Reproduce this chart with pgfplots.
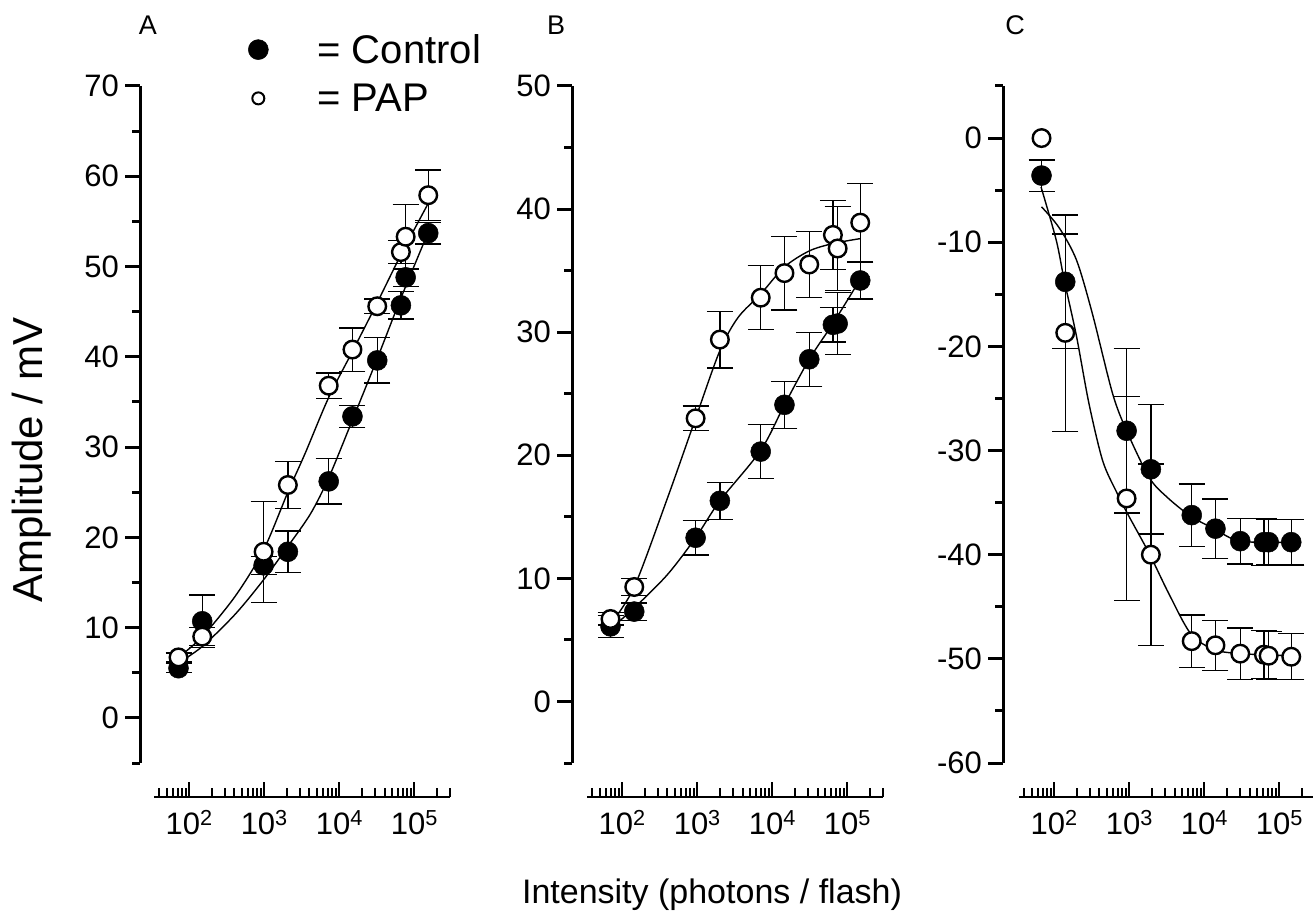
\documentclass[border=0pt]{standalone}
\usepackage{fontspec}
\setmainfont{Liberation Sans}
\usepackage{pgfplots}
\pgfplotsset{compat=1.18}
\newcommand{\tickfont}{\fontsize{31}{34}\selectfont}
\newcommand{\legfont}{\fontsize{40}{44}\selectfont}
% x values are log10(photons / flash)
\pgfplotsset{
  dataaxis/.style={
    scale only axis, width=311.3pt, height=677pt, anchor=south west,
    xmin=1.3324, xmax=5.4771,
    axis x line=none, axis y line*=left,
    axis line style={line width=3pt},
    tick align=outside,
    major tick length=15pt, minor tick length=8pt,
    tick style={line width=3pt, black},
    yticklabel style={font=\tickfont, inner sep=0pt, xshift=-6pt},
    clip=false,
  },
  xaxisstyle/.style={
    scale only axis, width=296.3pt, height=20pt, anchor=south west,
    xmin=1.5315, xmax=5.4771, ymin=0, ymax=1,
    axis y line=none, axis x line*=bottom,
    axis line style={line width=2.4pt},
    tick align=inside,
    major tick length=15pt, minor tick length=9pt,
    tick style={line width=2pt, black},
    xtick={2,3,4,5},
    xticklabels={10\textsuperscript{2},10\textsuperscript{3},10\textsuperscript{4},10\textsuperscript{5}},
    minor xtick={1.6021,1.6990,1.7782,1.8451,1.9031,1.9542,
      2.3010,2.4771,2.6021,2.6990,2.7782,2.8451,2.9031,2.9542,
      3.3010,3.4771,3.6021,3.6990,3.7782,3.8451,3.9031,3.9542,
      4.3010,4.4771,4.6021,4.6990,4.7782,4.8451,4.9031,4.9542,
      5.3010,5.4771},
    xticklabel style={font=\tickfont, yshift=-10pt},
    clip=false,
  },
  legimg/.style={legend image code/.code={\draw[##1] plot coordinates {(0pt,0pt)}; \path (-10pt,0pt) (58pt,0pt);}},
  ctrlmk/.style={only marks, mark=*, mark size=10pt, black, mark options={fill=black, line width=0.5pt}},
  papmk/.style={only marks, mark=*, mark size=8.8pt, black, mark options={fill=white, line width=2.4pt}},
  ebar/.style={only marks, mark=none, black,
    error bars/y dir=both, error bars/y explicit,
    error bars/error bar style={line width=1.3pt, black},
    error bars/error mark options={rotate=90, line width=1.3pt, mark size=13pt, black}},
  fitline/.style={smooth, no markers, line width=1.4pt, black},
}
\begin{document}
\begin{tikzpicture}
\path[use as bounding box] (0pt,0pt) rectangle (1313pt,913pt);

% ---------------- Panel A ----------------
\begin{axis}[dataaxis, at={(140pt,150pt)}, ymin=-5, ymax=70,
  ytick={0,10,20,30,40,50,60,70}, yticklabels={0,10,20,30,40,50,60,70},
  minor ytick={-5,5,15,25,35,45,55,65},
  legend style={draw=none, fill=none, at={(0.3467,1.078)}, anchor=north west,
    font=\legfont, row sep=17pt, inner sep=0pt, nodes={inner sep=1pt}, cells={anchor=west}},
  legimg,
]
\addlegendimage{ctrlmk, mark size=10pt}
\addlegendentry{= Control}
\addlegendimage{papmk, mark size=6pt, mark options={fill=white, line width=2pt}}
\addlegendentry{= PAP}
\addplot[ebar] coordinates {
 (1.845,5.5) +- (0,0.5) (2.161,10.7) +- (0,2.9) (2.978,16.9) +- (0,1.0) (3.301,18.4) +- (0,2.3)
 (3.845,26.2) +- (0,2.5) (4.161,33.4) +- (0,1.2) (4.491,39.6) +- (0,2.5) (4.806,45.7) +- (0,1.5)
 (4.869,48.8) +- (0,1.0) (5.170,53.7) +- (0,1.2)};
\addplot[ebar] coordinates {
 (1.845,6.7) +- (0,0.5) (2.161,9.0) +- (0,1.0) (2.978,18.4) +- (0,5.6) (3.301,25.8) +- (0,2.6)
 (3.845,36.8) +- (0,1.4) (4.161,40.8) +- (0,2.4) (4.491,45.6) +- (0,0.8) (4.806,51.6) +- (0,1.3)
 (4.869,53.3) +- (0,3.6) (5.170,57.9) +- (0,2.8)};
\addplot[fitline] coordinates {(1.845,6.1) (2.161,7.9) (2.602,11.5) (2.978,15.3) (3.301,19.0) (3.602,22.6) (3.845,26.6) (4.161,33.0) (4.491,39.8) (4.806,46.5) (5.170,53.8)};
\addplot[fitline] coordinates {(1.845,6.7) (2.161,9.0) (2.602,13.5) (2.978,18.6) (3.301,25.0) (3.531,29.3) (3.845,35.5) (4.161,40.6) (4.491,46.0) (4.806,51.3) (5.170,57.0)};
\addplot[ctrlmk] coordinates {(1.845,5.5) (2.161,10.7) (2.978,16.9) (3.301,18.4) (3.845,26.2) (4.161,33.4) (4.491,39.6) (4.806,45.7) (4.869,48.8) (5.170,53.7)};
\addplot[papmk] coordinates {(1.845,6.7) (2.161,9.0) (2.978,18.4) (3.301,25.8) (3.845,36.8) (4.161,40.8) (4.491,45.6) (4.806,51.6) (4.869,53.3) (5.170,57.9)};
\end{axis}
\begin{axis}[xaxisstyle, at={(154pt,116pt)}]
\end{axis}

% ---------------- Panel B ----------------
\begin{axis}[dataaxis, at={(572pt,150pt)}, ymin=-5, ymax=50,
  ytick={0,10,20,30,40,50}, yticklabels={0,10,20,30,40,50},
  minor ytick={-5,5,15,25,35,45}]
\addplot[ebar] coordinates {
 (1.845,6.1) +- (0,0.9) (2.161,7.3) +- (0,0.7) (2.978,13.3) +- (0,1.4) (3.301,16.3) +- (0,1.5)
 (3.845,20.3) +- (0,2.2) (4.161,24.1) +- (0,1.9) (4.491,27.8) +- (0,2.2) (4.806,30.6) +- (0,1.4)
 (4.869,30.7) +- (0,2.5) (5.170,34.2) +- (0,1.5)};
\addplot[ebar] coordinates {
 (1.845,6.7) +- (0,0.5) (2.161,9.3) +- (0,0.7) (2.978,23.0) +- (0,1.0) (3.301,29.4) +- (0,2.3)
 (3.845,32.8) +- (0,2.6) (4.161,34.8) +- (0,3.0) (4.491,35.5) +- (0,2.7) (4.806,37.9) +- (0,2.8)
 (4.869,36.8) +- (0,3.4) (5.170,38.9) +- (0,3.2)};
\addplot[fitline] coordinates {(1.845,5.9) (2.161,7.6) (2.602,10.3) (2.978,13.3) (3.301,16.3) (3.845,20.4) (4.161,24.1) (4.491,27.8) (4.806,30.7) (5.170,34.3)};
\addplot[fitline] coordinates {(1.845,6.3) (2.161,9.3) (2.602,16.5) (2.978,23.0) (3.301,28.5) (3.544,31.2) (3.845,33.1) (4.161,35.3) (4.491,36.6) (4.806,37.2) (5.170,37.6)};
\addplot[ctrlmk] coordinates {(1.845,6.1) (2.161,7.3) (2.978,13.3) (3.301,16.3) (3.845,20.3) (4.161,24.1) (4.491,27.8) (4.806,30.6) (4.869,30.7) (5.170,34.2)};
\addplot[papmk] coordinates {(1.845,6.7) (2.161,9.3) (2.978,23.0) (3.301,29.4) (3.845,32.8) (4.161,34.8) (4.491,35.5) (4.806,37.9) (4.869,36.8) (5.170,38.9)};
\end{axis}
\begin{axis}[xaxisstyle, at={(587pt,116pt)}]
\end{axis}

% ---------------- Panel C ----------------
\begin{axis}[dataaxis, at={(1003pt,150pt)}, ymin=-60, ymax=5,
  ytick={-60,-50,-40,-30,-20,-10,0}, yticklabels={-60,-50,-40,-30,-20,-10,0},
  minor ytick={-55,-45,-35,-25,-15,-5,5}]
\addplot[ebar] coordinates {
 (1.845,-3.6) +- (0,1.5) (2.161,-13.8) +- (0,6.4) (2.978,-28.1) +- (0,7.9) (3.301,-31.8) +- (0,6.2)
 (3.845,-36.2) +- (0,3.0) (4.161,-37.5) +- (0,2.85) (4.491,-38.7) +- (0,2.2) (4.806,-38.8) +- (0,2.25)
 (4.869,-38.8) +- (0,2.2) (5.170,-38.8) +- (0,2.2)};
\addplot[ebar] coordinates {
 (2.161,-18.7) +- (0,9.5) (2.978,-34.6) +- (0,9.8) (3.301,-40.0) +- (0,8.7)
 (3.845,-48.3) +- (0,2.5) (4.161,-48.7) +- (0,2.4) (4.491,-49.5) +- (0,2.45) (4.806,-49.6) +- (0,2.3)
 (4.869,-49.7) +- (0,2.3) (5.170,-49.8) +- (0,2.2)};
\addplot[fitline] coordinates {(1.845,-6.6) (2.079,-8.6) (2.310,-11.7) (2.520,-16.8) (2.790,-24.5) (2.978,-28.1) (3.280,-32.6) (3.520,-34.5) (3.830,-36.3) (4.140,-37.5) (4.490,-38.7) (5.170,-38.8)};
\addplot[fitline] coordinates {(1.839,-4.7) (2.041,-9.8) (2.149,-13.7) (2.310,-19.0) (2.477,-25.5) (2.660,-31.0) (2.845,-34.0) (2.978,-35.9) (3.280,-39.9) (3.544,-43.8) (3.833,-47.6) (4.140,-49.1) (4.491,-49.5) (5.170,-49.7)};
\addplot[ctrlmk] coordinates {(1.845,-3.6) (2.161,-13.8) (2.978,-28.1) (3.301,-31.8) (3.845,-36.2) (4.161,-37.5) (4.491,-38.7) (4.806,-38.8) (4.869,-38.8) (5.170,-38.8)};
\addplot[papmk] coordinates {(1.845,0.0) (2.161,-18.7) (2.978,-34.6) (3.301,-40.0) (3.845,-48.3) (4.161,-48.7) (4.491,-49.5) (4.806,-49.6) (4.869,-49.7) (5.170,-49.8)};
\end{axis}
\begin{axis}[xaxisstyle, at={(1019pt,116pt)}]
\end{axis}

% ---------------- Labels ----------------
\node[font=\fontsize{27}{30}\selectfont, anchor=base] at (148pt,878pt) {A};
\node[font=\fontsize{27}{30}\selectfont, anchor=base] at (556pt,878pt) {B};
\node[font=\fontsize{27}{30}\selectfont, anchor=base] at (1015pt,878pt) {C};
\node[font=\fontsize{42}{46}\selectfont, rotate=90] at (32pt,453pt) {Amplitude / mV};
\node[font=\fontsize{34}{38}\selectfont, anchor=base] at (712pt,10pt) {Intensity (photons / flash)};
\end{tikzpicture}
\end{document}
